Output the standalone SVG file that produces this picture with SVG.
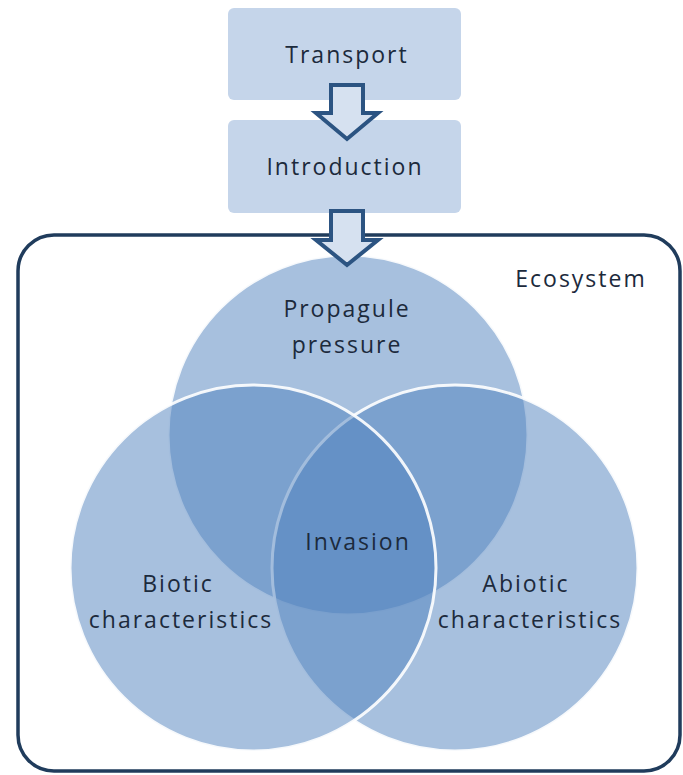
<svg xmlns="http://www.w3.org/2000/svg" width="683" height="775" viewBox="0 0 683 775">
<style>
.box{fill:#c5d5ea;}
.arrow{fill:#d6e1f0;stroke:#2c5482;stroke-width:4;stroke-linejoin:miter;}
.eco{fill:none;stroke:#203c5c;stroke-width:3.5;}
.venn{fill:#4f81bd;fill-opacity:0.5;stroke:#ffffff;stroke-opacity:0.9;stroke-width:3;}
text{font-family:"Open Sans","DejaVu Sans",sans-serif;font-size:23px;fill:#1c2a3c;letter-spacing:2px;text-anchor:middle;}
</style>
<rect width="683" height="775" fill="#ffffff"/>
<g id="ecosystem">
<rect class="eco" x="18" y="235" width="662" height="536" rx="36" ry="36"/>
<text x="581" y="287">Ecosystem</text>
</g>
<g id="transport">
<rect class="box" x="228" y="8" width="233" height="92" rx="6"/>
<text x="347" y="63">Transport</text>
</g>
<g id="introduction">
<rect class="box" x="228" y="120" width="233" height="93" rx="6"/>
<text x="345" y="175">Introduction</text>
</g>
<g id="venn">
<circle id="propagule" class="venn" cx="348" cy="435" r="180"/>
<circle id="abiotic" class="venn" cx="455" cy="568" r="183"/>
<circle id="biotic" class="venn" cx="253" cy="568" r="183"/>
</g>
<g id="labels">
<text x="347" y="317">Propagule</text>
<text x="347" y="353">pressure</text>
<text x="358" y="550">Invasion</text>
<text x="178" y="592">Biotic</text>
<text x="181" y="628">characteristics</text>
<text x="526" y="592">Abiotic</text>
<text x="530" y="628">characteristics</text>
</g>
<g id="connectors">
<polygon class="arrow" points="331,85 363,85 363,113 378,113 347,139 316,113 331,113"/>
<polygon class="arrow" points="331,211 363,211 363,240 378,240 347,265 316,240 331,240"/>
</g>
</svg>
